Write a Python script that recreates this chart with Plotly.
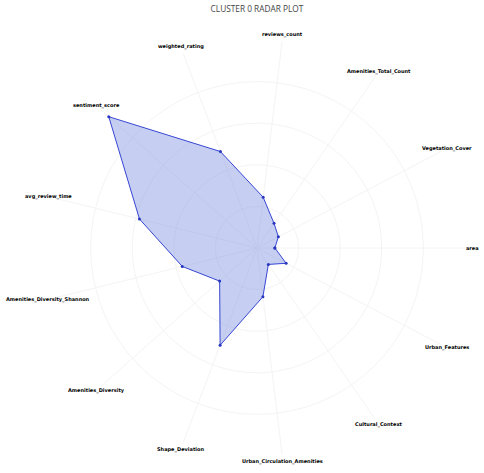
import math
import plotly.graph_objects as go

categories = [
    "area", "Vegetation_Cover", "Amenities_Total_Count", "reviews_count",
    "weighted_rating", "sentiment_score", "avg_review_time",
    "Amenities_Diversity_Shannon", "Amenities_Diversity", "Shape_Deviation",
    "Urban_Circulation_Amenities", "Cultural_Context", "Urban_Features",
]
values = [0.43, 0.58, 0.72, 1.23, 2.48, 4.76, 2.91, 1.85, 1.20, 2.50, 1.18, 0.48, 0.79]

r_closed = values + values[:1]
theta_closed = categories + categories[:1]

fig = go.Figure()
fig.add_trace(go.Scatterpolar(
    r=r_closed,
    theta=theta_closed,
    mode="lines+markers",
    fill="toself",
    fillcolor="rgba(120,140,225,0.42)",
    line=dict(color="rgb(55,70,210)", width=1),
    marker=dict(color="rgb(40,55,190)", size=3),
    showlegend=False,
    hoverinfo="skip",
))

# category labels centred just outside the polar area (matplotlib-like placement)
label_r = 215 / 416  # fraction of the square plot area
n = len(categories)
annotations = []
for i, name in enumerate(categories):
    a = 2 * math.pi * i / n
    annotations.append(dict(
        text=name, xref="paper", yref="paper",
        x=0.5 + label_r * math.cos(a), y=0.5 + label_r * math.sin(a),
        xanchor="center", yanchor="middle", showarrow=False,
        font=dict(family="DejaVu Sans, sans-serif", size=5,
                  color="#000000", weight="bold"),
    ))

fig.update_layout(
    width=484,
    height=473,
    paper_bgcolor="white",
    plot_bgcolor="white",
    margin=dict(l=49, r=19, t=40, b=17),
    title=dict(
        text="CLUSTER 0 RADAR PLOT",
        x=0.5, xref="paper", xanchor="center",
        y=1 - 9.5 / 473, yref="container", yanchor="middle",
        font=dict(family="Open Sans, sans-serif", size=8.3, color="#444"),
    ),
    annotations=annotations,
    polar=dict(
        bgcolor="white",
        radialaxis=dict(
            range=[0, 5], dtick=1, showticklabels=False, ticks="",
            showline=False, gridcolor="#f4f4f4", gridwidth=1,
        ),
        angularaxis=dict(
            direction="counterclockwise", rotation=0,
            showline=False, gridcolor="#f4f4f4", gridwidth=1, ticks="",
            showticklabels=False,
        ),
    ),
)

fig.write_html(
    "out.html",
    config={"displayModeBar": False},
    post_script="document.body.style.margin='0';",
)
